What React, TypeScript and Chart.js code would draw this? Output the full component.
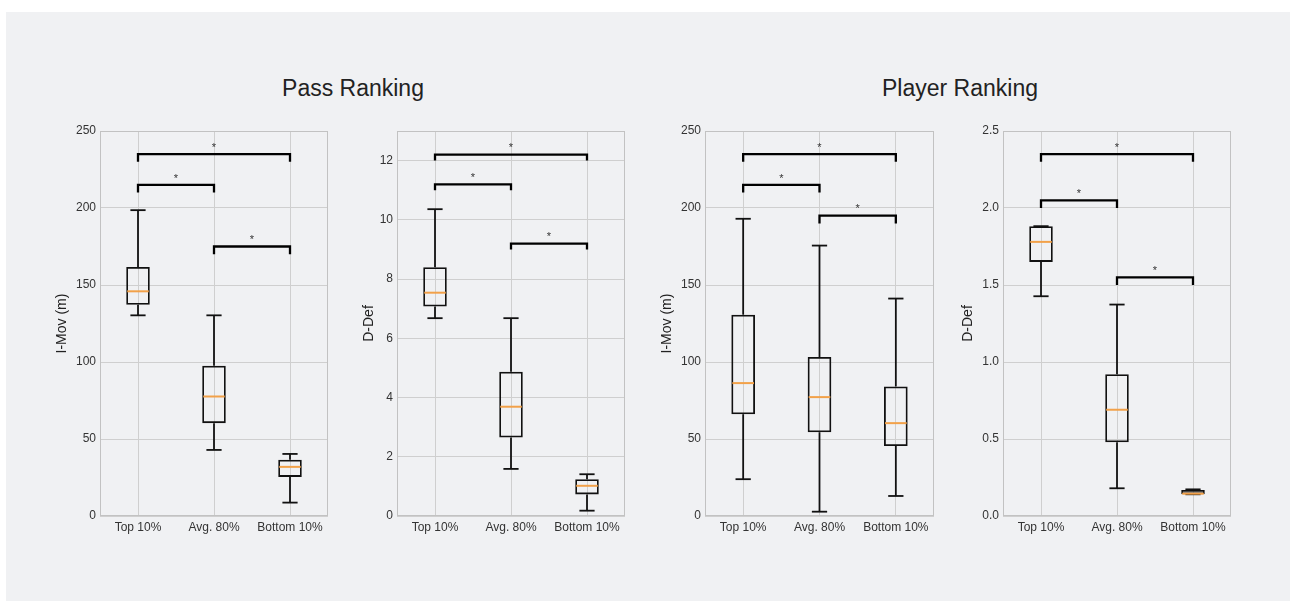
import React, { useEffect, useRef } from 'react';
import { Chart, registerables } from 'chart.js';

Chart.register(...registerables);

const categories = ['Top 10%', 'Avg. 80%', 'Bottom 10%'];

// Pass Ranking – I-Mov (m)
const passMovLow = [130.3, 42.9, 8.7];
const passMovQ1 = [137.2, 60.3, 25.4];
const passMovMedian = [145.9, 77.6, 31.9];
const passMovQ3 = [161.7, 97.6, 36.6];
const passMovHigh = [198.6, 130.3, 40.3];
const passMovTicks = [0, 50, 100, 150, 200, 250];
const passMovBracketTop = [235, 215, 175];
const passMovBracketTip = [230, 210, 170];
const passMovStar = [241, 221, 181];

// Pass Ranking – D-Def
const passDefLow = [6.68, 1.59, 0.18];
const passDefQ1 = [7.07, 2.65, 0.73];
const passDefMedian = [7.54, 3.69, 1.02];
const passDefQ3 = [8.4, 4.87, 1.24];
const passDefHigh = [10.36, 6.68, 1.41];
const passDefTicks = [0, 2, 4, 6, 8, 10, 12];
const passDefBracketTop = [12.2, 11.2, 9.2];
const passDefBracketTip = [12.0, 11.0, 9.0];
const passDefStar = [12.53, 11.5, 9.51];

// Player Ranking – I-Mov (m)
const playerMovLow = [23.9, 2.8, 13.0];
const playerMovQ1 = [66.1, 54.4, 45.5];
const playerMovMedian = [86.3, 77.2, 60.3];
const playerMovQ3 = [130.7, 103.2, 84.1];
const playerMovHigh = [193.0, 175.6, 141.2];
const playerMovTicks = [0, 50, 100, 150, 200, 250];
const playerMovBracketTop = [235, 215, 195];
const playerMovBracketTip = [230, 210, 190];
const playerMovStar = [241, 221, 201];

// Player Ranking – D-Def
const playerDefLow = [1.427, 0.18, 0.141];
const playerDefQ1 = [1.65, 0.479, 0.141];
const playerDefMedian = [1.78, 0.69, 0.145];
const playerDefQ3 = [1.882, 0.921, 0.169];
const playerDefHigh = [1.882, 1.373, 0.173];
const playerDefTicks = [0, 0.5, 1.0, 1.5, 2.0, 2.5];
const playerDefBracketTop = [2.35, 2.05, 1.55];
const playerDefBracketTip = [2.3, 2.0, 1.5];
const playerDefStar = [2.41, 2.11, 1.61];

const bracketFrom = ['Top 10%', 'Top 10%', 'Avg. 80%'];
const bracketTo = ['Bottom 10%', 'Avg. 80%', 'Bottom 10%'];

const FONT = '"Liberation Sans", Arial, Helvetica, sans-serif';

type PanelCfg = {
  left: number;
  right: number;
  yTitle: string;
  titlePad: number;
  max: number;
  decimals: number;
  ticks: number[];
  low: number[];
  q1: number[];
  median: number[];
  q3: number[];
  high: number[];
  bracketTop: number[];
  bracketTip: number[];
  star: number[];
};

const PLOT_TOP = 131;
const PLOT_BOTTOM = 516;
const AXIS_W = 50;
const PAD_TOP = 15;
const PAD_RIGHT = 10;
const X_AXIS_H = 30;

const panels: PanelCfg[] = [
  {
    left: 100, right: 328, yTitle: 'I-Mov (m)', titlePad: 3.6, max: 250, decimals: 0,
    ticks: passMovTicks, low: passMovLow, q1: passMovQ1, median: passMovMedian, q3: passMovQ3, high: passMovHigh,
    bracketTop: passMovBracketTop, bracketTip: passMovBracketTip, star: passMovStar,
  },
  {
    left: 397, right: 625, yTitle: 'D-Def', titlePad: 13.6, max: 13, decimals: 0,
    ticks: passDefTicks, low: passDefLow, q1: passDefQ1, median: passDefMedian, q3: passDefQ3, high: passDefHigh,
    bracketTop: passDefBracketTop, bracketTip: passDefBracketTip, star: passDefStar,
  },
  {
    left: 705, right: 934, yTitle: 'I-Mov (m)', titlePad: 3.6, max: 250, decimals: 0,
    ticks: playerMovTicks, low: playerMovLow, q1: playerMovQ1, median: playerMovMedian, q3: playerMovQ3, high: playerMovHigh,
    bracketTop: playerMovBracketTop, bracketTip: playerMovBracketTip, star: playerMovStar,
  },
  {
    left: 1003, right: 1231, yTitle: 'D-Def', titlePad: 6.6, max: 2.5, decimals: 1,
    ticks: playerDefTicks, low: playerDefLow, q1: playerDefQ1, median: playerDefMedian, q3: playerDefQ3, high: playerDefHigh,
    bracketTop: playerDefBracketTop, bracketTip: playerDefBracketTip, star: playerDefStar,
  },
];

const BOX_WIDTH = 0.31; // in category units
const CAP_WIDTH = 0.2;

function Panel({ cfg }: { cfg: PanelCfg }) {
  const ref = useRef<HTMLCanvasElement | null>(null);

  useEffect(() => {
    if (!ref.current) return;
    const decor = {
      id: 'boxDecor',
      beforeDatasetsDraw(chart: any) {
        const { ctx, chartArea: a } = chart;
        ctx.save();
        ctx.strokeStyle = '#c2c2c2';
        ctx.lineWidth = 1;
        ctx.strokeRect(Math.round(a.left) + 0.5, Math.round(a.top) + 0.5, Math.round(a.right - a.left) - 1, Math.round(a.bottom - a.top) - 1);
        ctx.restore();
      },
      afterDatasetsDraw(chart: any) {
        const { ctx } = chart;
        const x = chart.scales.x;
        const y = chart.scales.y;
        const unit = x.getPixelForValue(1) - x.getPixelForValue(0);
        const line = (x0: number, y0: number, x1: number, y1: number) => {
          ctx.beginPath();
          ctx.moveTo(x0, y0);
          ctx.lineTo(x1, y1);
          ctx.stroke();
        };
        ctx.save();
        ctx.lineCap = 'butt';
        ctx.strokeStyle = '#111111';
        ctx.lineWidth = 1.8;
        categories.forEach((_, i) => {
          const cx = x.getPixelForValue(i);
          const half = (unit * CAP_WIDTH) / 2;
          const yl = y.getPixelForValue(cfg.low[i]);
          const y1 = y.getPixelForValue(cfg.q1[i]);
          const y3 = y.getPixelForValue(cfg.q3[i]);
          const yh = y.getPixelForValue(cfg.high[i]);
          line(cx, yl, cx, y1);
          line(cx, y3, cx, yh);
          line(cx - half, yl, cx + half, yl);
          line(cx - half, yh, cx + half, yh);
        });
        ctx.strokeStyle = '#f2a149';
        ctx.lineWidth = 2;
        categories.forEach((_, i) => {
          const cx = x.getPixelForValue(i);
          const half = (unit * BOX_WIDTH) / 2;
          const ym = y.getPixelForValue(cfg.median[i]);
          line(cx - half + 1, ym, cx + half - 1, ym);
        });
        ctx.strokeStyle = '#000000';
        ctx.lineWidth = 2.3;
        ctx.lineJoin = 'miter';
        ctx.fillStyle = '#333333';
        ctx.font = `11px ${FONT}`;
        ctx.textAlign = 'center';
        ctx.textBaseline = 'alphabetic';
        cfg.bracketTop.forEach((top, i) => {
          const xa = x.getPixelForValue(categories.indexOf(bracketFrom[i]));
          const xb = x.getPixelForValue(categories.indexOf(bracketTo[i]));
          const yt = y.getPixelForValue(top);
          const yp = y.getPixelForValue(cfg.bracketTip[i]);
          ctx.beginPath();
          ctx.moveTo(xa, yp);
          ctx.lineTo(xa, yt);
          ctx.lineTo(xb, yt);
          ctx.lineTo(xb, yp);
          ctx.stroke();
          ctx.fillText('*', (xa + xb) / 2, y.getPixelForValue(cfg.star[i]) + 6);
        });
        ctx.restore();
      },
    };

    const chart = new Chart(ref.current, {
      type: 'bar',
      data: {
        labels: categories,
        datasets: [
          {
            data: categories.map((_, i) => [cfg.q1[i], cfg.q3[i]]) as any,
            backgroundColor: 'rgba(0,0,0,0)',
            borderColor: '#111111',
            borderWidth: 1.8,
            borderSkipped: false,
            barPercentage: BOX_WIDTH,
            categoryPercentage: 1,
          },
        ],
      },
      options: {
        animation: false,
        responsive: true,
        maintainAspectRatio: false,
        layout: { padding: { left: 0, right: PAD_RIGHT, top: PAD_TOP, bottom: 0 } },
        plugins: { legend: { display: false }, tooltip: { enabled: false } },
        scales: {
          x: {
            type: 'category',
            offset: true,
            grid: { offset: false, color: '#cfcfcf', lineWidth: 1, drawTicks: false },
            border: { display: false },
            ticks: { color: '#333333', font: { family: FONT, size: 12 }, padding: 4, maxRotation: 0, autoSkip: false },
            afterFit: (s: any) => { s.height = X_AXIS_H; },
          },
          y: {
            type: 'linear',
            min: 0,
            max: cfg.max,
            grid: { color: '#cfcfcf', lineWidth: 1, drawTicks: false },
            border: { display: false },
            ticks: {
              color: '#333333',
              font: { family: FONT, size: 12 },
              padding: 4,
              callback: (v: any) => Number(v).toFixed(cfg.decimals),
            },
            afterBuildTicks: (s: any) => { s.ticks = cfg.ticks.map((v) => ({ value: v })); },
            afterFit: (s: any) => { s.width = AXIS_W; },
            title: {
              display: true,
              text: cfg.yTitle,
              color: '#222222',
              font: { family: FONT, size: 14 },
              padding: { top: cfg.titlePad, bottom: 0 },
            },
          },
        },
      },
      plugins: [decor],
    });
    return () => chart.destroy();
  }, [cfg]);

  const w = cfg.right - cfg.left + AXIS_W + PAD_RIGHT;
  const h = PLOT_BOTTOM - PLOT_TOP + PAD_TOP + X_AXIS_H;
  return (
    <div
      style={{
        position: 'absolute',
        left: cfg.left - AXIS_W,
        top: PLOT_TOP - PAD_TOP,
        width: w,
        height: h,
      }}
    >
      <canvas ref={ref} />
    </div>
  );
}

const titleStyle: React.CSSProperties = {
  position: 'absolute',
  top: 77,
  fontFamily: FONT,
  fontSize: 23,
  lineHeight: '23px',
  color: '#222222',
  whiteSpace: 'nowrap',
  transform: 'translateX(-50%)',
};

export default function App() {
  return (
    <div style={{ position: 'absolute', left: 0, top: 0, width: 1290, height: 601, background: '#ffffff', overflow: 'hidden' }}>
      <div style={{ position: 'absolute', left: 6, top: 12, right: 0, bottom: 0, background: '#f0f1f3' }} />
      <div style={{ ...titleStyle, left: 353 }}>Pass Ranking</div>
      <div style={{ ...titleStyle, left: 960 }}>Player Ranking</div>
      {panels.map((p, i) => (
        <Panel key={i} cfg={p} />
      ))}
    </div>
  );
}
